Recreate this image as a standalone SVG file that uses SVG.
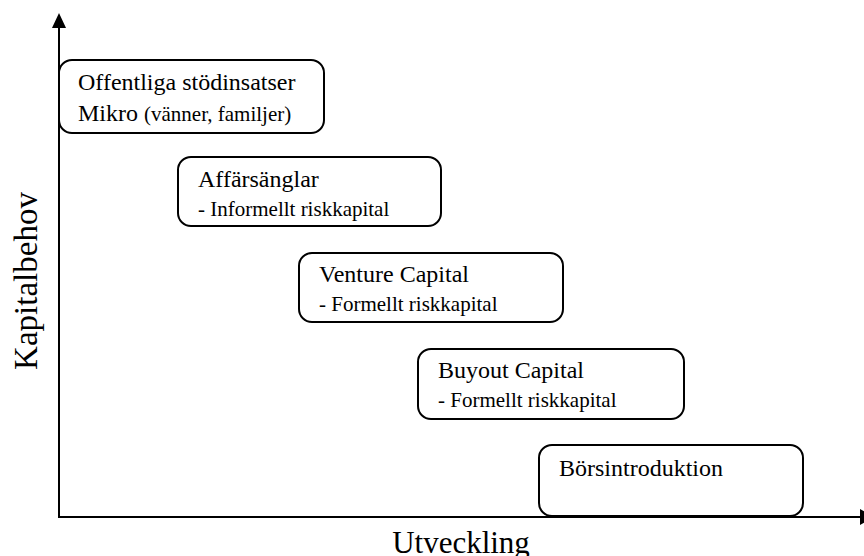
<svg xmlns="http://www.w3.org/2000/svg" width="864" height="556" viewBox="0 0 864 556">
<style>
.box{fill:#fff;stroke:#000;stroke-width:2}
.t{font-family:"Liberation Serif","Times New Roman",serif;fill:#000}
.title{font-size:24px}
.sub{font-size:21px}
.ax{stroke:#000;stroke-width:2;fill:none}
</style>
<rect width="864" height="556" fill="#fff"/>
<g id="axes">
<line class="ax" x1="59" y1="26" x2="59" y2="518"/>
<polygon points="59,13 52,28 66,28" fill="#000"/>
<line class="ax" x1="58" y1="517" x2="862" y2="517"/>
<polygon points="874,517 860,509 860,525" fill="#000"/>
</g>
<g id="node-offentliga">
<rect class="box" x="59" y="60" width="265" height="73" rx="13"/>
<text class="t title" x="78" y="90">Offentliga stödinsatser</text>
<text class="t title" x="78" y="121">Mikro <tspan class="sub">(vänner, familjer)</tspan></text>
</g>
<g id="node-affarsanglar">
<rect class="box" x="178" y="157" width="263" height="69" rx="13"/>
<text class="t title" x="198" y="187">Affärsänglar</text>
<text class="t sub" x="198" y="216">- Informellt riskkapital</text>
</g>
<g id="node-venture">
<rect class="box" x="299" y="253" width="264" height="69" rx="13"/>
<text class="t title" x="319" y="282">Venture Capital</text>
<text class="t sub" x="319" y="311">- Formellt riskkapital</text>
</g>
<g id="node-buyout">
<rect class="box" x="418" y="349" width="266" height="70" rx="13"/>
<text class="t title" x="438" y="378">Buyout Capital</text>
<text class="t sub" x="438" y="407">- Formellt riskkapital</text>
</g>
<g id="node-borsintroduktion">
<rect class="box" x="539" y="445" width="264" height="71" rx="13"/>
<text class="t title" x="559" y="476">Börsintroduktion</text>
</g>
<g id="labels">
<text class="t" font-size="33" transform="translate(37,281) rotate(-90)" text-anchor="middle">Kapitalbehov</text>
<text class="t" font-size="31" x="461" y="553" text-anchor="middle">Utveckling</text>
</g>
</svg>
